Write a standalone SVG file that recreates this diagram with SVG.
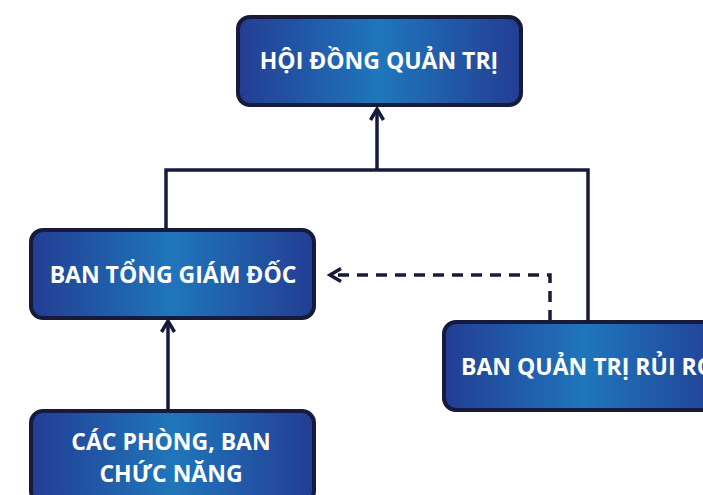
<svg xmlns="http://www.w3.org/2000/svg" width="703" height="495" viewBox="0 0 703 495">
<defs>
<linearGradient id="g" x1="0" y1="0" x2="1" y2="0">
<stop offset="0" stop-color="#233d94"/>
<stop offset="0.5" stop-color="#1f76bb"/>
<stop offset="1" stop-color="#233d94"/>
</linearGradient>
<marker id="ah" viewBox="0 0 16 16" markerWidth="16" markerHeight="16" refX="13" refY="8" orient="auto" markerUnits="userSpaceOnUse">
<path d="M2,1.5 L13,8 L2,14.5" fill="none" stroke="#161b3b" stroke-width="3.5"/>
</marker>
</defs>
<style>
.box{fill:url(#g);stroke:#161b3b;stroke-width:4}
.t{font-family:"Open Sans","Noto Sans","Liberation Sans",sans-serif;font-weight:bold;font-size:23px;fill:#ffffff;text-anchor:middle}
.c{fill:none;stroke:#161b3b;stroke-width:3.5}
.d{stroke-dasharray:11 8}
</style>
<rect width="703" height="495" fill="#ffffff"/>
<g id="connectors">
<polyline class="c" points="166,230 166,170 588,170 588,321"/>
<line class="c" x1="377" y1="170" x2="377" y2="109" marker-end="url(#ah)"/>
<line class="c" x1="168" y1="410" x2="168" y2="321" marker-end="url(#ah)"/>
<polyline class="c d" points="550,321 550,275 330,275" marker-end="url(#ah)"/>
</g>
<g id="hdqt">
<rect class="box" x="238" y="17" width="283" height="88" rx="12"/>
<text class="t" x="379" y="69">HỘI ĐỒNG QUẢN TRỊ</text>
</g>
<g id="btgd">
<rect class="box" x="31" y="230" width="283" height="88" rx="12"/>
<text class="t" x="173" y="283">BAN TỔNG GIÁM ĐỐC</text>
</g>
<g id="bqtrr">
<rect class="box" x="444" y="322" width="283" height="88" rx="12"/>
<text class="t" x="588" y="375">BAN QUẢN TRỊ RỦI RO</text>
</g>
<g id="cpb">
<rect class="box" x="31" y="411" width="283" height="92" rx="12"/>
<text class="t" x="171" y="450">CÁC PHÒNG, BAN</text>
<text class="t" x="171" y="482">CHỨC NĂNG</text>
</g>
</svg>
